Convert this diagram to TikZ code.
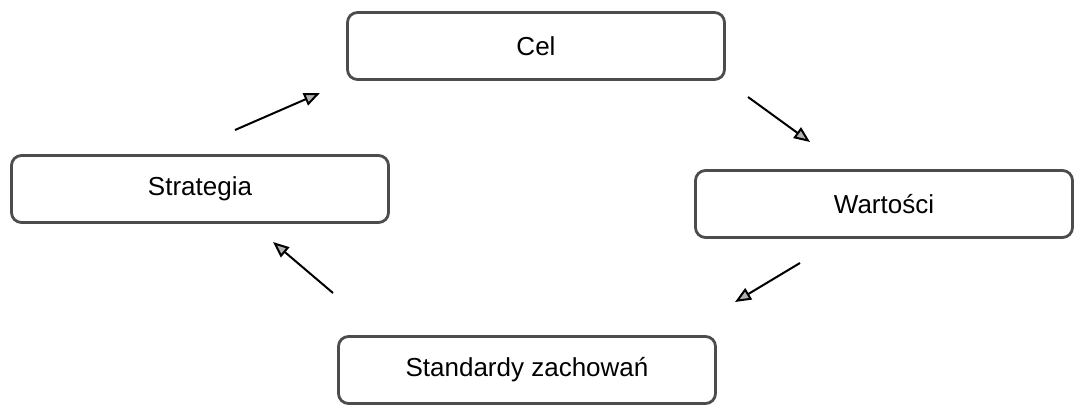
\documentclass[tikz,border=0pt]{standalone}
\usepackage{fontspec}
\setmainfont{Liberation Sans}
\usetikzlibrary{arrows.meta}

\begin{document}
\begin{tikzpicture}[x=1pt,y=-1pt]
		\tikzset{every node/.style={rectangle, rounded corners=10pt, draw=black!70, line width=2.8pt, minimum width=377pt, minimum height=67pt, font=\fontsize{26}{30}\selectfont}}
\useasboundingbox (0,0) rectangle (1077,412);
\node (cel) at (536,46) {Cel};
\node (str) at (200,189) {Strategia};
\node (war) at (884,204) {Wartości};
\node (sta) at (527,370) {Standardy zachowań};

\coordinate (s1) at (235,130); \coordinate (t1) at (320,93);
\coordinate (s2) at (748,97);  \coordinate (t2) at (810,142);
\coordinate (s3) at (800,263); \coordinate (t3) at (735,302);
\coordinate (s4) at (333,293); \coordinate (t4) at (273,242);

\foreach \from/\to in {s1/t1,s2/t2,s3/t3,s4/t4}
{
	\draw[line width=2pt, -{Triangle[length=16pt,width=13pt,fill=gray!60]}] (\from) -- (\to);
}

		\end{tikzpicture}
\end{document}
